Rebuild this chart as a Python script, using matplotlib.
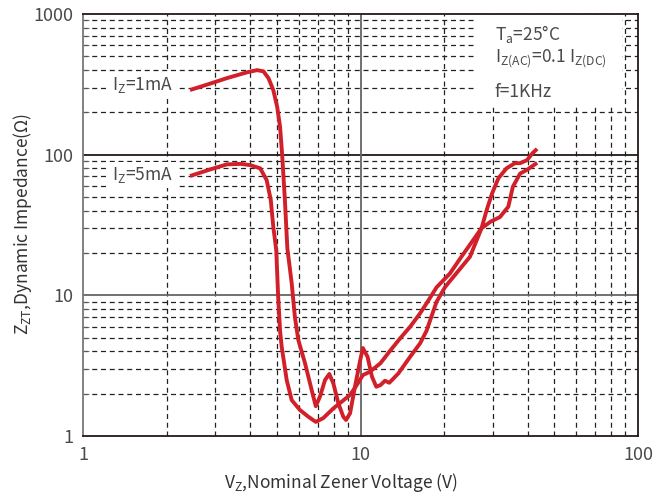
import matplotlib
matplotlib.use("Agg")
import matplotlib.pyplot as plt
from matplotlib.patches import Rectangle
from matplotlib.ticker import LogLocator, NullFormatter, FixedLocator, FixedFormatter

plt.rcParams['font.family'] = ['Noto Sans CJK SC', 'DejaVu Sans']
plt.rcParams['mathtext.default'] = 'regular'

# Iz = 1mA curve (Vz, Zzt)
vz_1ma = [2.43, 2.9, 3.3, 3.9, 4.24, 4.47, 4.66, 4.85, 5.01, 5.13, 5.22, 5.34, 5.45,
          5.65, 5.8, 5.97, 6.31, 6.67, 6.9, 7.14, 7.45, 7.72, 7.98, 8.32, 8.67, 8.87,
          9.17, 9.55, 9.98, 10.2, 10.6, 11.0, 11.4, 11.8, 12.25, 12.7, 13.7, 15.1,
          16.4, 17.3, 17.8, 18.8, 20.2, 21.6, 24.8, 27.3, 28.5, 29.8, 31.4, 33.6,
          36.0, 37.6, 39.8, 41.6, 43.3]
zz_1ma = [288, 322, 350, 385, 399, 391, 350, 288, 218, 158, 100, 47.6, 21.6,
          12.2, 7.05, 4.81, 3.29, 2.12, 1.63, 1.90, 2.5, 2.76, 2.37, 1.71, 1.37, 1.30,
          1.45, 2.24, 3.47, 4.22, 3.66, 2.64, 2.24, 2.30, 2.47, 2.39, 2.79, 3.66,
          4.56, 5.6, 6.6, 9.0, 11.5, 13.5, 18.8, 30.0, 40.5, 53.0, 68.0, 80.0,
          87.0, 87.0, 91.4, 102, 110]

# Iz = 5mA curve
vz_5ma = [2.43, 2.9, 3.3, 3.7, 4.0, 4.35, 4.59, 4.75, 4.85, 4.97, 5.05, 5.13, 5.2,
          5.42, 5.65, 6.05, 6.49, 6.9, 7.34, 7.98, 8.55, 9.17, 9.69, 10.2, 10.8,
          11.8, 12.7, 13.9, 15.1, 16.4, 17.3, 18.8, 21.0, 23.1, 27.3, 29.5, 31.8,
          34.1, 35.4, 37.6, 39.8, 42.0, 43.3]
zz_5ma = [70.5, 79, 85.3, 86, 84.3, 80, 66, 47.6, 30.7, 21, 9.75, 5.6, 4.31,
          2.5, 1.80, 1.53, 1.37, 1.26, 1.34, 1.57, 1.75, 1.96, 2.30, 2.71, 2.86,
          3.29, 3.97, 4.95, 5.98, 7.45, 8.77, 11.4, 14.3, 18.8, 30.0, 33.5, 36.0,
          42.7, 59.1, 73.4, 78, 84, 87.5]

x_ticks = [1, 10, 100]
x_labels = ['1', '10', '100']
y_ticks = [1, 10, 100, 1000]
y_labels = ['1', '10', '100', '1000']

red = '#d2202a'
txt = '#4a4a4a'

fig = plt.figure(figsize=(6.69, 4.98), dpi=100)
ax = fig.add_axes([83 / 669, 1 - 436 / 498, 555 / 669, 422 / 498])
ax.set_xscale('log')
ax.set_yscale('log')
ax.set_xlim(1, 100)
ax.set_ylim(1, 1000)
ax.set_axisbelow(True)

ax.xaxis.set_major_locator(FixedLocator(x_ticks))
ax.xaxis.set_major_formatter(FixedFormatter(x_labels))
ax.yaxis.set_major_locator(FixedLocator(y_ticks))
ax.yaxis.set_major_formatter(FixedFormatter(y_labels))
ax.xaxis.set_minor_locator(LogLocator(base=10, subs=range(2, 10)))
ax.yaxis.set_minor_locator(LogLocator(base=10, subs=range(2, 10)))
ax.xaxis.set_minor_formatter(NullFormatter())
ax.yaxis.set_minor_formatter(NullFormatter())

ax.grid(which='minor', color='#222222', lw=0.9, ls=(0, (4, 3)))
ax.axhline(100, color='#231815', lw=1.3, zorder=0.6)
ax.axhline(10, color='#666666', lw=1.3, zorder=0.6)
ax.axvline(10, color='#666666', lw=1.3, zorder=0.6)

ax.tick_params(which='major', length=0, labelsize=13, labelcolor=txt, pad=7)
ax.tick_params(axis='y', which='minor', direction='in', length=4, color='#666666')
ax.tick_params(axis='x', which='minor', length=0)
for s in ax.spines.values():
    s.set_color('#231815')
    s.set_linewidth(1.3)
ax.spines['left'].set_color('#777777')

# white area behind the condition notes
ax.add_patch(Rectangle((0.708, 0.784), 0.263, 0.214, transform=ax.transAxes,
                       facecolor='white', edgecolor='none', zorder=1))

ax.plot(vz_1ma, zz_1ma, color=red, lw=2.8, solid_joinstyle='round', solid_capstyle='butt', zorder=3)
ax.plot(vz_5ma, zz_5ma, color=red, lw=2.8, solid_joinstyle='round', solid_capstyle='butt', zorder=3)

box = dict(facecolor='white', edgecolor='none', pad=2)
ax.text(1.27, 312, r'I$_{Z}$=1mA', fontsize=12.5, color=txt, ha='left', va='center', bbox=box, zorder=2)
ax.text(1.27, 71.6, r'I$_{Z}$=5mA', fontsize=12.5, color=txt, ha='left', va='center', bbox=box, zorder=2)

ax.text(0.742, 0.953, r'T$_{a}$=25°C', transform=ax.transAxes, fontsize=12.5, color=txt,
        ha='left', va='center', zorder=2)
ax.text(0.742, 0.893, r'I$_{Z(AC)}$=0.1 I$_{Z(DC)}$', transform=ax.transAxes, fontsize=12.5,
        color=txt, ha='left', va='center', zorder=2)
ax.text(0.742, 0.815, 'f=1KHz', transform=ax.transAxes, fontsize=12.5, color=txt,
        ha='left', va='center', zorder=2)

fig.text(341 / 669, 1 - 482 / 498, r'V$_{Z}$,Nominal Zener Voltage (V)', fontsize=12.5,
         color='#333333', ha='center', va='center')
fig.text(23 / 669, 1 - 224 / 498, r'Z$_{ZT}$,Dynamic Impedance(Ω)', fontsize=12.5,
         color='#333333', ha='center', va='center', rotation=90)

fig.savefig('out.png', dpi=100)
